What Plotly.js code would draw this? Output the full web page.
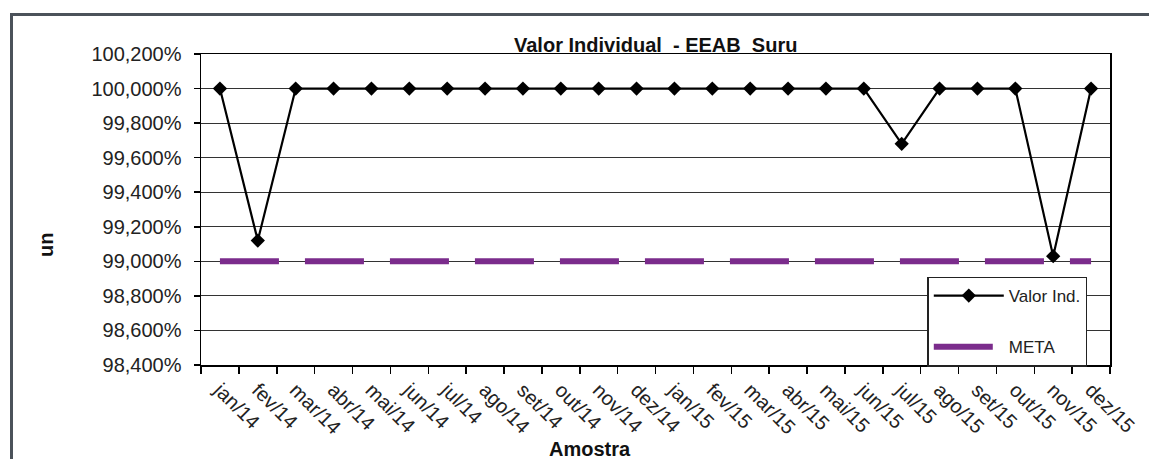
<!DOCTYPE html>
<html>
<head>
<meta charset="utf-8">
<script src="https://cdn.plot.ly/plotly-3.0.1.min.js"></script>
<style>
html,body{margin:0;padding:0;background:#fff;}
#wrap{position:relative;width:1149px;height:459px;overflow:hidden;}
#chart{position:absolute;left:0;top:0;width:1149px;height:459px;}
#frame{position:absolute;left:10px;top:13px;width:1160px;height:460px;border-top:3px solid #4b525a;border-left:3px solid #4b525a;pointer-events:none;}
</style>
</head>
<body>
<div id="wrap"><div id="chart"></div><div id="frame"></div></div>
<script>
const months = ["jan/14","fev/14","mar/14","abr/14","mai/14","jun/14","jul/14","ago/14","set/14","out/14","nov/14","dez/14",
                "jan/15","fev/15","mar/15","abr/15","mai/15","jun/15","jul/15","ago/15","set/15","out/15","nov/15","dez/15"];
const valorInd = [100, 99.12, 100, 100, 100, 100, 100, 100, 100, 100, 100, 100,
                  100, 100, 100, 100, 100, 100, 99.68, 100, 100, 100, 99.03, 100];
const meta = [99, 99, 99, 99, 99, 99, 99, 99, 99, 99, 99, 99,
              99, 99, 99, 99, 99, 99, 99, 99, 99, 99, 99, 99];
const yTicks = [98.4, 98.6, 98.8, 99.0, 99.2, 99.4, 99.6, 99.8, 100.0, 100.2];
const yTickText = ["98,400%","98,600%","98,800%","99,000%","99,200%","99,400%","99,600%","99,800%","100,000%","100,200%"];

const font = "Arial, 'Liberation Sans', sans-serif";

const traces = [
  {
    x: months, y: meta, name: "META", type: "scatter", mode: "lines",
    line: {color: "#7b2c8c", width: 6, dash: "59px,26px"},
    legendgroup: "b", legendrank: 2, hoverinfo: "skip"
  },
  {
    x: months, y: valorInd, name: "Valor Ind.", type: "scatter", mode: "lines+markers",
    line: {color: "#000000", width: 2.2},
    marker: {symbol: "diamond", size: 11, color: "#000000"},
    legendgroup: "a", legendrank: 1
  }
];

const layout = {
  width: 1149, height: 459,
  margin: {l: 201, r: 39, t: 54, b: 94},
  paper_bgcolor: "rgba(0,0,0,0)", plot_bgcolor: "#ffffff",
  separators: ",.",
  font: {family: font, color: "#222222", size: 20},
  showlegend: true,
  legend: {
    x: 0.799, y: -0.005, xanchor: "left", yanchor: "bottom",
    bgcolor: "#ffffff", bordercolor: "#222222", borderwidth: 1.5,
    font: {family: font, size: 17, color: "#222222"},
    traceorder: "grouped", tracegroupgap: 26, itemwidth: 70
  },
  xaxis: {
    type: "category", range: [-0.5, 23.5],
    tickson: "boundaries", ticks: "outside", ticklen: 7, tickcolor: "#000", tickwidth: 1.5,
    tickangle: 45, tickfont: {family: font, size: 20, color: "#222222"}, ticklabelstandoff: 4,
    showline: true, linecolor: "#000", linewidth: 1.5, mirror: true,
    showgrid: false, zeroline: false
  },
  yaxis: {
    range: [98.4, 100.2], tickmode: "array", tickvals: yTicks, ticktext: yTickText,
    ticks: "outside", ticklen: 6, tickcolor: "#000", tickwidth: 1.5, ticklabelstandoff: 8,
    tickfont: {family: font, size: 20, color: "#222222"},
    showline: true, linecolor: "#000", linewidth: 1.5, mirror: true,
    showgrid: true, gridcolor: "#333333", gridwidth: 1.2, zeroline: false
  },
  annotations: [
    {text: "<b>Valor Individual  - EEAB  Suru</b>", xref: "paper", yref: "paper",
     x: 0.5, y: (459 - 45 - 94) / 311, xanchor: "center", yanchor: "middle", showarrow: false,
     font: {family: font, size: 20, color: "#111111"}},
    {text: "<b>un</b>", xref: "paper", yref: "paper", textangle: -90,
     x: (46 - 201) / 909, y: (459 - 245 - 94) / 311, xanchor: "center", yanchor: "middle", showarrow: false,
     font: {family: font, size: 20, color: "#111111"}},
    {text: "<b>Amostra</b>", xref: "paper", yref: "paper",
     x: (590 - 201) / 909, y: (459 - 449 - 94) / 311, xanchor: "center", yanchor: "middle", showarrow: false,
     font: {family: font, size: 20, color: "#111111"}}
  ]
};

Plotly.newPlot("chart", traces, layout, {displayModeBar: false, staticPlot: true});
</script>
</body>
</html>
